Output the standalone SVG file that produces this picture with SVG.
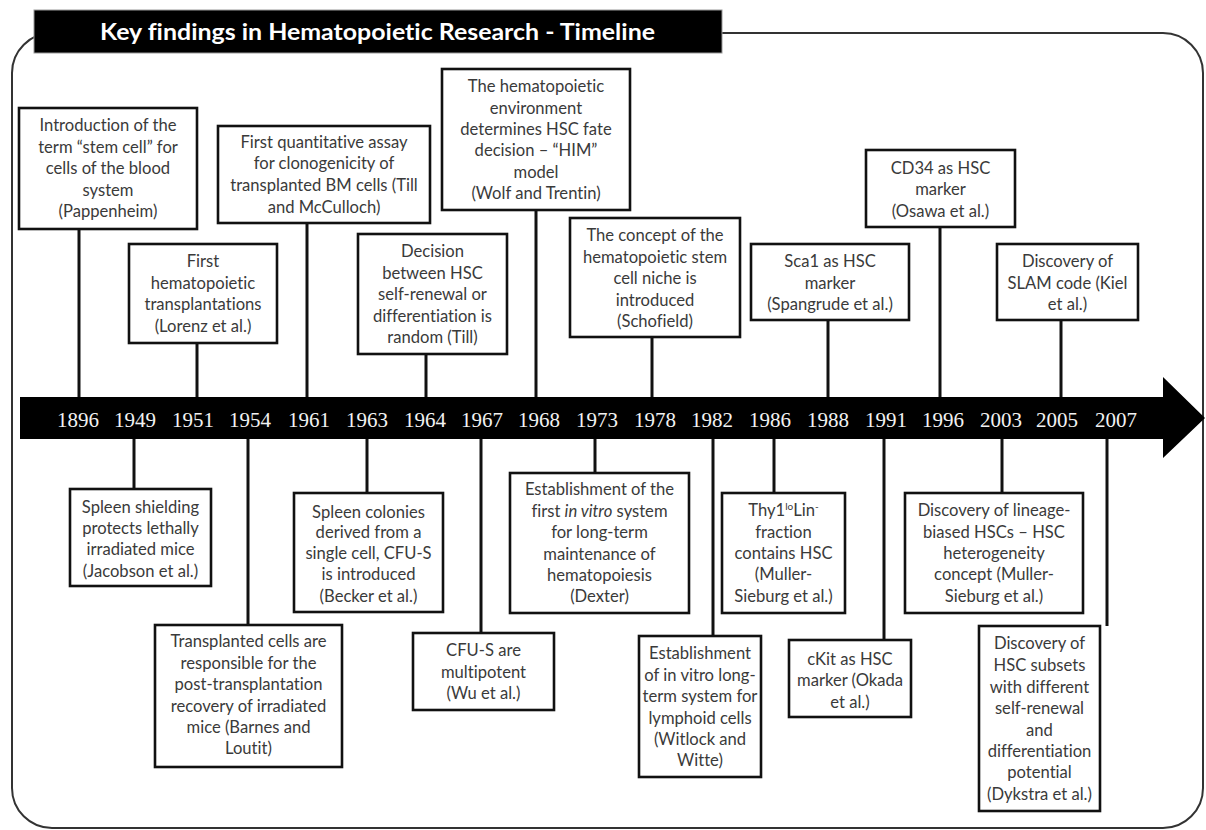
<svg xmlns="http://www.w3.org/2000/svg" width="1206" height="830" viewBox="0 0 1206 830">
<style>
.box{fill:#fff;stroke:#111;stroke-width:2.6}
.t{font-family:Lato,"Liberation Sans",sans-serif;font-size:16.6px;fill:#3a3a3a;text-anchor:middle;font-variant-ligatures:none}
.yr{font-family:"Liberation Serif",serif;font-size:21px;fill:#f2f2f2;text-anchor:middle}
.ln{stroke:#111;stroke-width:3;fill:none}
</style>
<rect width="1206" height="830" fill="#fff"/>
<rect x="12" y="33" width="1191" height="795" rx="40" fill="none" stroke="#333" stroke-width="2"/>
<g id="title">
<rect x="34" y="10" width="688" height="43" fill="#000" stroke="#999" stroke-width="1"/>
<text x="100" y="40" font-family="Lato,'Liberation Sans',sans-serif" font-weight="bold" font-size="22.5px" fill="#fff" textLength="555" lengthAdjust="spacingAndGlyphs" style="font-variant-ligatures:none">Key findings in Hematopoietic Research - Timeline</text>
</g>
<g id="timeline">
<path d="M20 397 H1163 V377 L1205 418 L1163 458 V439 H20 Z" fill="#000"/>
<text class="yr" y="427"><tspan x="78">1896</tspan><tspan x="135">1949</tspan><tspan x="193">1951</tspan><tspan x="250">1954</tspan><tspan x="309">1961</tspan><tspan x="367">1963</tspan><tspan x="425">1964</tspan><tspan x="482">1967</tspan><tspan x="539">1968</tspan><tspan x="597">1973</tspan><tspan x="655">1978</tspan><tspan x="712">1982</tspan><tspan x="770">1986</tspan><tspan x="828">1988</tspan><tspan x="886">1991</tspan><tspan x="943">1996</tspan><tspan x="1001">2003</tspan><tspan x="1057">2005</tspan><tspan x="1116">2007</tspan></text>
</g>
<g id="connectors">
<line class="ln" x1="79" y1="229" x2="79" y2="397"/>
<line class="ln" x1="197" y1="343" x2="197" y2="397"/>
<line class="ln" x1="307" y1="223" x2="307" y2="397"/>
<line class="ln" x1="426" y1="354" x2="426" y2="397"/>
<line class="ln" x1="536" y1="210" x2="536" y2="397"/>
<line class="ln" x1="652" y1="337" x2="652" y2="397"/>
<line class="ln" x1="828" y1="320" x2="828" y2="397"/>
<line class="ln" x1="940" y1="227" x2="940" y2="397"/>
<line class="ln" x1="1061" y1="320" x2="1061" y2="397"/>
<line class="ln" x1="134" y1="439" x2="134" y2="489"/>
<line class="ln" x1="248" y1="439" x2="248" y2="625"/>
<line class="ln" x1="367" y1="439" x2="367" y2="493"/>
<line class="ln" x1="481" y1="439" x2="481" y2="633"/>
<line class="ln" x1="595" y1="439" x2="595" y2="473"/>
<line class="ln" x1="713" y1="439" x2="713" y2="636"/>
<line class="ln" x1="774" y1="439" x2="774" y2="493"/>
<line class="ln" x1="884" y1="439" x2="884" y2="640"/>
<line class="ln" x1="1002" y1="439" x2="1002" y2="493"/>
<line class="ln" x1="1107" y1="439" x2="1107" y2="626"/>
</g>
<g id="n1896"><rect class="box" x="19" y="108" width="178" height="121"/>
<text class="t"><tspan x="108" y="131">Introduction of the</tspan><tspan x="108" y="153">term “stem cell” for</tspan><tspan x="108" y="174">cells of  the blood</tspan><tspan x="108" y="196">system</tspan><tspan x="108" y="217">(Pappenheim)</tspan></text></g>
<g id="n1951"><rect class="box" x="129" y="244" width="148" height="99"/>
<text class="t"><tspan x="203" y="267">First</tspan><tspan x="203" y="289">hematopoietic</tspan><tspan x="203" y="310">transplantations</tspan><tspan x="203" y="332">(Lorenz et al.)</tspan></text></g>
<g id="n1961"><rect class="box" x="218" y="126" width="212" height="97"/>
<text class="t"><tspan x="324" y="148">First quantitative assay</tspan><tspan x="324" y="169">for  clonogenicity of</tspan><tspan x="324" y="191">transplanted BM cells (Till</tspan><tspan x="324" y="213">and McCulloch)</tspan></text></g>
<g id="n1964"><rect class="box" x="358" y="234" width="149" height="120"/>
<text class="t"><tspan x="432.5" y="257">Decision</tspan><tspan x="432.5" y="279">between HSC</tspan><tspan x="432.5" y="300">self-renewal or</tspan><tspan x="432.5" y="322">differentiation is</tspan><tspan x="432.5" y="343">random (Till)</tspan></text></g>
<g id="n1968"><rect class="box" x="442" y="69" width="188" height="141"/>
<text class="t"><tspan x="536" y="92">The hematopoietic</tspan><tspan x="536" y="114">environment</tspan><tspan x="536" y="135">determines HSC fate</tspan><tspan x="536" y="156">decision – “HIM”</tspan><tspan x="536" y="178">model</tspan><tspan x="536" y="199">(Wolf and Trentin)</tspan></text></g>
<g id="n1978"><rect class="box" x="570" y="218" width="170" height="119"/>
<text class="t"><tspan x="655" y="241">The concept of the</tspan><tspan x="655" y="263">hematopoietic stem</tspan><tspan x="655" y="284">cell niche is</tspan><tspan x="655" y="306">introduced</tspan><tspan x="655" y="327">(Schofield)</tspan></text></g>
<g id="n1988"><rect class="box" x="751" y="244" width="158" height="76"/>
<text class="t"><tspan x="830" y="267">Sca1 as HSC</tspan><tspan x="830" y="289">marker</tspan><tspan x="830" y="310">(Spangrude et al.)</tspan></text></g>
<g id="n1996"><rect class="box" x="866" y="150" width="149" height="77"/>
<text class="t"><tspan x="940.5" y="174">CD34 as HSC</tspan><tspan x="940.5" y="195">marker</tspan><tspan x="940.5" y="217">(Osawa et al.)</tspan></text></g>
<g id="n2005"><rect class="box" x="997" y="244" width="141" height="76"/>
<text class="t"><tspan x="1067.5" y="267">Discovery of</tspan><tspan x="1067.5" y="289">SLAM code (Kiel</tspan><tspan x="1067.5" y="310">et al.)</tspan></text></g>
<g id="n1949"><rect class="box" x="70" y="489" width="141" height="97"/>
<text class="t"><tspan x="140.5" y="513">Spleen shielding</tspan><tspan x="140.5" y="534">protects lethally</tspan><tspan x="140.5" y="555">irradiated mice</tspan><tspan x="140.5" y="577">(Jacobson et al.)</tspan></text></g>
<g id="n1954"><rect class="box" x="155" y="625" width="187" height="142"/>
<text class="t"><tspan x="248.5" y="647">Transplanted cells are</tspan><tspan x="248.5" y="669">responsible for the</tspan><tspan x="248.5" y="690">post-transplantation</tspan><tspan x="248.5" y="712">recovery of irradiated</tspan><tspan x="248.5" y="733">mice (Barnes and</tspan><tspan x="248.5" y="754">Loutit)</tspan></text></g>
<g id="n1963"><rect class="box" x="294" y="493" width="149" height="119"/>
<text class="t"><tspan x="368.5" y="518">Spleen colonies</tspan><tspan x="368.5" y="538">derived from a</tspan><tspan x="368.5" y="559">single cell, CFU-S</tspan><tspan x="368.5" y="580">is introduced</tspan><tspan x="368.5" y="602">(Becker et al.)</tspan></text></g>
<g id="n1967"><rect class="box" x="413" y="633" width="141" height="77"/>
<text class="t"><tspan x="483.5" y="656">CFU-S are</tspan><tspan x="483.5" y="678">multipotent</tspan><tspan x="483.5" y="699">(Wu et al.)</tspan></text></g>
<g id="n1973"><rect class="box" x="510" y="473" width="179" height="140"/>
<text class="t"><tspan x="599.5" y="495">Establishment of the</tspan><tspan x="599.5" y="517">first  <tspan font-style="italic">in vitro</tspan> system</tspan><tspan x="599.5" y="538">for long-term</tspan><tspan x="599.5" y="560">maintenance of</tspan><tspan x="599.5" y="581">hematopoiesis</tspan><tspan x="599.5" y="602">(Dexter)</tspan></text></g>
<g id="n1982"><rect class="box" x="639" y="636" width="122" height="141"/>
<text class="t"><tspan x="700" y="659">Establishment</tspan><tspan x="700" y="681">of in vitro long-</tspan><tspan x="700" y="702">term system for</tspan><tspan x="700" y="724">lymphoid cells</tspan><tspan x="700" y="745">(Witlock and</tspan><tspan x="700" y="766">Witte)</tspan></text></g>
<g id="n1986"><rect class="box" x="722" y="493" width="123" height="120"/>
<text class="t"><tspan x="783.5" y="516">Thy1<tspan font-size="10px" dy="-6">lo</tspan><tspan dy="6">Lin</tspan><tspan font-size="10px" dy="-6">-</tspan></tspan><tspan x="783.5" y="538">fraction</tspan><tspan x="783.5" y="559">contains HSC</tspan><tspan x="783.5" y="580">(Muller-</tspan><tspan x="783.5" y="602">Sieburg et al.)</tspan></text></g>
<g id="n1991"><rect class="box" x="789" y="640" width="122" height="77"/>
<text class="t"><tspan x="850" y="665">cKit as HSC</tspan><tspan x="850" y="686">marker (Okada</tspan><tspan x="850" y="708">et al.)</tspan></text></g>
<g id="n2003"><rect class="box" x="905" y="493" width="178" height="120"/>
<text class="t"><tspan x="994" y="516">Discovery of lineage-</tspan><tspan x="994" y="538">biased HSCs – HSC</tspan><tspan x="994" y="559">heterogeneity</tspan><tspan x="994" y="580">concept (Muller-</tspan><tspan x="994" y="602">Sieburg et al.)</tspan></text></g>
<g id="n2007"><rect class="box" x="979" y="626" width="121" height="185"/>
<text class="t"><tspan x="1039.5" y="649">Discovery of</tspan><tspan x="1039.5" y="671">HSC subsets</tspan><tspan x="1039.5" y="693">with different</tspan><tspan x="1039.5" y="714">self-renewal</tspan><tspan x="1039.5" y="736">and</tspan><tspan x="1039.5" y="757">differentiation</tspan><tspan x="1039.5" y="778">potential</tspan><tspan x="1039.5" y="800">(Dykstra et al.)</tspan></text></g>
</svg>
